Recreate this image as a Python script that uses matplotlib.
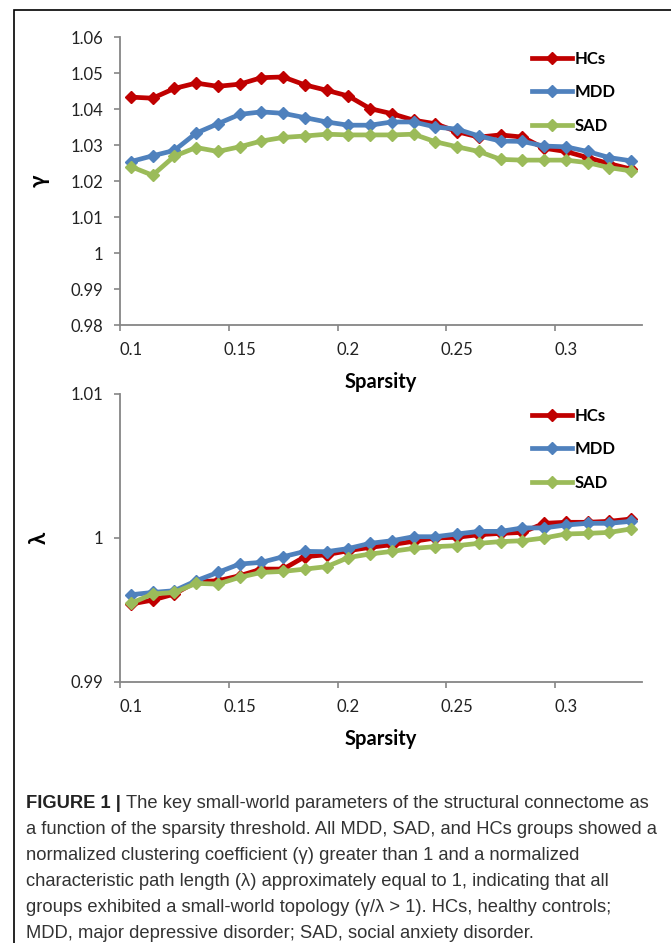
import matplotlib
matplotlib.use("Agg")
import matplotlib.pyplot as plt
from matplotlib.patches import Rectangle

# sparsity thresholds (x categories)
sparsity = [0.10, 0.11, 0.12, 0.13, 0.14, 0.15, 0.16, 0.17, 0.18, 0.19, 0.20, 0.21,
            0.22, 0.23, 0.24, 0.25, 0.26, 0.27, 0.28, 0.29, 0.30, 0.31, 0.32, 0.33]
groups = ["HCs", "MDD", "SAD"]

# normalized clustering coefficient (gamma)
gamma_hcs = [1.0433, 1.0430, 1.0457, 1.0472, 1.0463, 1.0469, 1.0487, 1.0489, 1.0467, 1.0452, 1.0436, 1.0401,
             1.0387, 1.0369, 1.0359, 1.0337, 1.0322, 1.0328, 1.0322, 1.0291, 1.0282, 1.0265, 1.0248, 1.0233]
gamma_mdd = [1.0254, 1.0270, 1.0285, 1.0333, 1.0359, 1.0385, 1.0392, 1.0388, 1.0376, 1.0364, 1.0355, 1.0355,
             1.0364, 1.0364, 1.0350, 1.0344, 1.0325, 1.0311, 1.0310, 1.0297, 1.0295, 1.0282, 1.0265, 1.0256]
gamma_sad = [1.0240, 1.0216, 1.0269, 1.0293, 1.0282, 1.0295, 1.0311, 1.0321, 1.0325, 1.0330, 1.0328, 1.0328,
             1.0328, 1.0330, 1.0309, 1.0295, 1.0282, 1.0260, 1.0258, 1.0258, 1.0258, 1.0251, 1.0237, 1.0228]

# normalized characteristic path length (lambda)
lambda_hcs = [0.99541, 0.99569, 0.99611, 0.99696, 0.99703, 0.99738, 0.99784, 0.99784, 0.99870, 0.99884, 0.99912, 0.99935,
              0.99954, 0.99977, 1.00000, 1.00005, 1.00023, 1.00032, 1.00039, 1.00102, 1.00109, 1.00109, 1.00116, 1.00132]
lambda_mdd = [0.99606, 0.99622, 0.99634, 0.99703, 0.99761, 0.99819, 0.99831, 0.99870, 0.99907, 0.99905, 0.99927, 0.99963,
              0.99981, 1.00009, 1.00009, 1.00028, 1.00046, 1.00046, 1.00070, 1.00070, 1.00090, 1.00102, 1.00102, 1.00116]
lambda_sad = [0.99546, 0.99611, 0.99622, 0.99685, 0.99680, 0.99727, 0.99761, 0.99768, 0.99784, 0.99801, 0.99864, 0.99889,
              0.99907, 0.99928, 0.99940, 0.99947, 0.99963, 0.99975, 0.99981, 1.00000, 1.00028, 1.00032, 1.00039, 1.00063]

gamma_ticks = [0.98, 0.99, 1.00, 1.01, 1.02, 1.03, 1.04, 1.05, 1.06]
lambda_ticks = [0.99, 1.00, 1.01]
x_labels = [0.10, 0.15, 0.20, 0.25, 0.30]

colors = ["#C00000", "#4F81BD", "#9BBB59"]
axis_gray = "#868686"
font = ["Lato", "DejaVu Sans"]

W, H = 671, 943
fig = plt.figure(figsize=(W / 100, H / 100), dpi=100)


def px_axes(left, top, right, bottom):
    return fig.add_axes([left / W, 1 - bottom / H, (right - left) / W, (bottom - top) / H])


def panel(ax, series, yticks, ylabel):
    for vals, name, c in zip(series, groups, colors):
        ax.plot(sparsity, vals, color=c, lw=3.4, marker="D", ms=6.5, label=name,
                solid_joinstyle="round")
    ax.set_xlim(0.095, 0.335)
    ax.set_ylim(yticks[0], yticks[-1])
    ax.set_yticks(yticks)
    ax.set_yticklabels(["%g" % round(t, 2) for t in yticks], family=font, fontsize=12)
    # excel category axis: labels under categories, tick marks between them
    ax.set_xticks(x_labels)
    ax.set_xticklabels(["%g" % t for t in x_labels], family=font, fontsize=12)
    ax.set_xticks([t - 0.005 for t in x_labels], minor=True)
    ax.tick_params(axis="x", which="major", length=0, pad=12, colors="#222222")
    ax.tick_params(axis="x", which="minor", length=4, width=1.2, color=axis_gray)
    ax.tick_params(axis="y", length=4, width=1.2, color=axis_gray, labelcolor="#222222", pad=8)
    for s in ["top", "right"]:
        ax.spines[s].set_visible(False)
    for s in ["left", "bottom"]:
        ax.spines[s].set_color(axis_gray)
        ax.spines[s].set_linewidth(1.3)
    ax.set_xlabel("Sparsity", family=font, fontsize=14.5, fontweight="bold", labelpad=10)
    ax.set_ylabel(ylabel, family=font, fontsize=16, fontweight="bold", labelpad=0)
    ax.yaxis.set_label_coords(-0.135, 0.5)
    ax.legend(loc="upper left", bbox_to_anchor=(0.774, 0.982), frameon=False,
              handlelength=2.4, handletextpad=0.15, labelspacing=1.05, borderpad=0,
              prop={"family": font, "size": 12, "weight": "bold"})


ax1 = px_axes(120, 37, 642, 325)
panel(ax1, [gamma_hcs, gamma_mdd, gamma_sad], gamma_ticks, "γ")
ax2 = px_axes(120, 394, 642, 682)
panel(ax2, [lambda_hcs, lambda_mdd, lambda_sad], lambda_ticks, "λ")

# frame around the figure (left and top edges visible)
fig.patches.append(Rectangle((14 / W, -0.1), 1.2, 1 - 10 / H + 0.1, transform=fig.transFigure,
                             fill=False, ec="black", lw=1.2))

# caption
cap_font = ["Liberation Sans Narrow", "Liberation Sans", "DejaVu Sans"]
cap_lines = [
    "The key small-world parameters of the structural connectome as",
    "a function of the sparsity threshold. All MDD, SAD, and HCs groups showed a",
    "normalized clustering coefficient (γ) greater than 1 and a normalized",
    "characteristic path length (λ) approximately equal to 1, indicating that all",
    "groups exhibited a small-world topology (γ/λ > 1). HCs, healthy controls;",
    "MDD, major depressive disorder; SAD, social anxiety disorder.",
]
cap_y = [804, 830, 856, 882, 908, 934]
fs = 13.2
bold = fig.text(26 / W, 1 - cap_y[0] / H, "FIGURE 1 | ", family=cap_font, fontsize=fs,
                fontweight="bold", va="center", color="#222222")
r = fig.canvas.get_renderer()
bb = bold.get_window_extent(r)
fig.text(bb.x1 / W, 1 - cap_y[0] / H, cap_lines[0], family=cap_font, fontsize=fs,
         va="center", color="#333333")
for line, y in zip(cap_lines[1:], cap_y[1:]):
    fig.text(26 / W, 1 - y / H, line, family=cap_font, fontsize=fs, va="center", color="#333333")

fig.savefig("out.png", dpi=100)
